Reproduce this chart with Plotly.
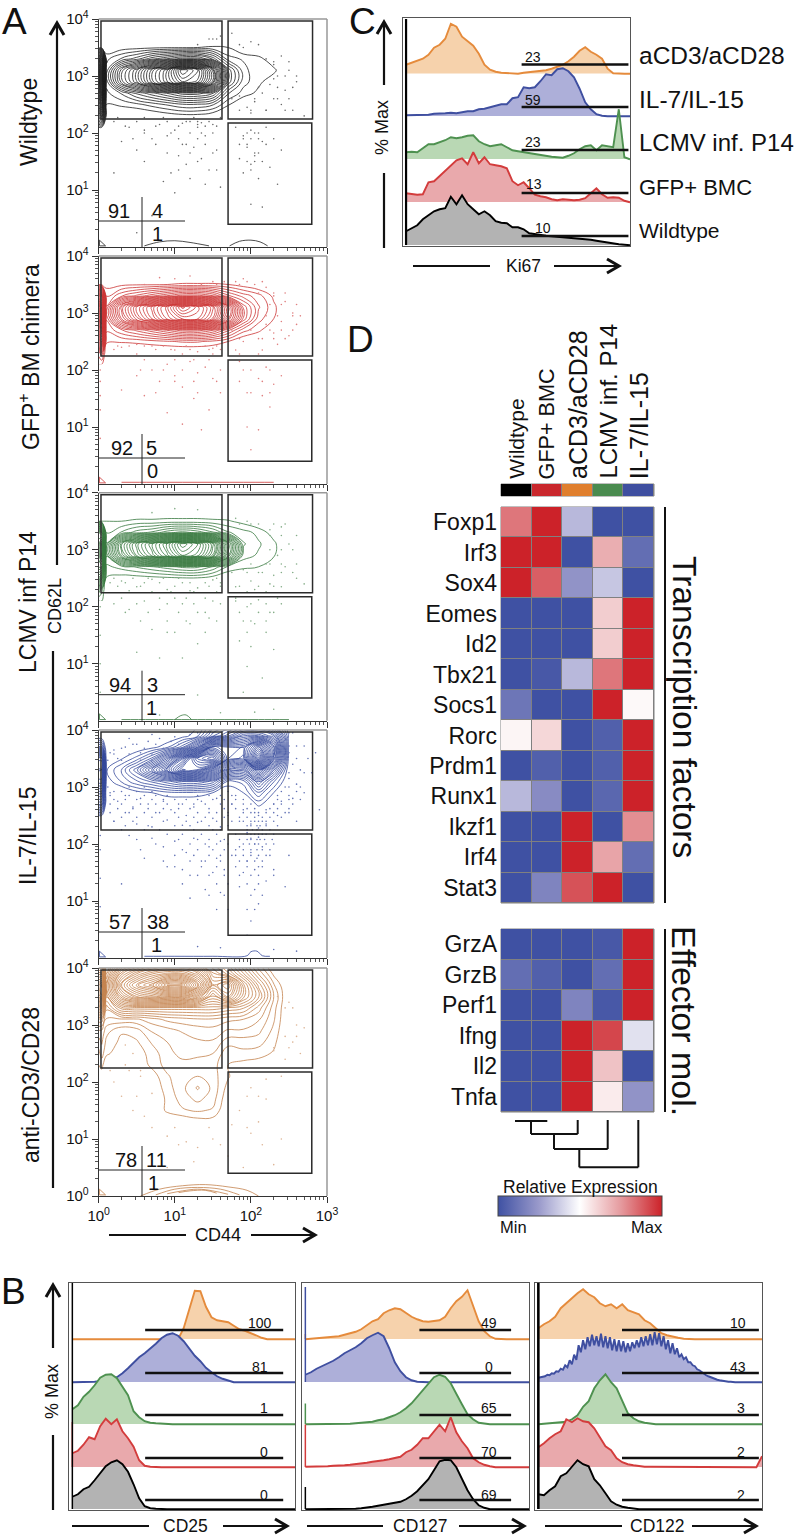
import numpy as np
import plotly.graph_objects as go

W, H = 796, 1537
FONT = "Liberation Sans"

ORANGE, BLUE, GREEN, RED, BLACK = "#E58B3C", "#3F4FA0", "#4E9150", "#D33C3C", "#000000"
FILLS = ["#F6D2AC", "#ADAFD9", "#B9D8B4", "#E9A9AC", "#B3B3B3"]
LINES = [ORANGE, BLUE, GREEN, RED, BLACK]

# ---- panel A: flow plots (all positions in log10 units)
grid_x = [0.0, 0.04, 0.1, 0.3, 0.5, 0.7, 0.9, 1.1, 1.3, 1.5, 1.7, 1.9, 2.1, 2.3, 2.5]

wt_y = [1.9, 2.1, 2.3, 2.5, 2.7, 2.9, 3.1, 3.3, 3.5, 3.7]
wt_z = [
    [0, 0, 0, 0, 0, 0, 0, 0, 0, 0, 0, 0, 0, 0, 0],
    [1, 1, 0, 0, 0, 0, 0, 0, 0, 0, 0, 0, 0, 0, 0],
    [6, 8, 0.8, 0, 0, 0.2, 0.5, 0.7, 0.7, 0.4, 0, 0, 0, 0, 0],
    [9, 12, 1, 1.2, 1.5, 2, 2.5, 3, 3, 2.5, 1.1, 0.2, 0, 0, 0],
    [11, 15, 1.5, 2.5, 4, 5, 6, 7, 7, 6, 2.5, 1.4, 0.8, 0, 0],
    [12, 18, 2, 7, 10, 14, 17, 20, 19, 14, 5, 2, 1.2, 0.5, 0],
    [12, 18, 2, 7, 10, 14, 17, 22, 20, 14, 5, 2, 1.1, 1.2, 0],
    [10, 14, 1.5, 2.5, 3.5, 5, 6, 7, 7, 5, 2, 1.6, 1.3, 0.4, 0],
    [0.5, 0.5, 0.4, 0.6, 0.7, 0.8, 0.9, 0.9, 1, 1.1, 1, 0.2, 0, 0, 0],
    [0, 0, 0, 0, 0, 0, 0, 0, 0, 0, 0, 0, 0, 0, 0],
]
gfp_y = [2.1, 2.3, 2.5, 2.7, 2.9, 3.1, 3.3, 3.5, 3.7]
gfp_z = [
    [1, 1, 0, 0, 0, 0, 0, 0, 0, 0, 0, 0, 0, 0, 0],
    [2, 3, 0, 0, 0, 0, 0, 0, 0, 0, 0, 0, 0, 0, 0],
    [9, 11, 1.2, 1.1, 1.2, 1.4, 1.6, 1.8, 1.8, 1.5, 1, 0.2, 0, 0, 0],
    [12, 14, 1.8, 3, 4, 5, 6, 7, 7, 6, 4, 2, 1.2, 0.2, 0],
    [13, 16, 2.5, 8, 12, 15, 18, 20, 20, 17, 11, 5, 2, 1, 0],
    [13, 16, 2.5, 9, 13, 16, 19, 23, 21, 18, 12, 5, 2.5, 1.2, 0],
    [10, 12, 1.6, 3, 4, 5, 6, 7, 7, 6, 4, 2.8, 2, 0.8, 0],
    [0.8, 0.8, 0.7, 0.8, 0.9, 0.9, 1, 1.1, 1.1, 1.1, 1, 0.6, 0.2, 0, 0],
    [0, 0, 0, 0, 0, 0, 0, 0, 0, 0, 0, 0, 0, 0, 0],
]
lcmv_y = [2.1, 2.3, 2.5, 2.7, 2.9, 3.1, 3.3, 3.5, 3.7]
lcmv_z = [
    [1, 1, 0, 0, 0, 0, 0, 0, 0, 0, 0, 0, 0, 0, 0],
    [3, 2, 0, 0, 0, 0, 0, 0, 0, 0, 0, 0, 0, 0, 0],
    [10, 8, 0.9, 0.6, 0.6, 0.7, 0.8, 0.9, 0.9, 0.6, 0.3, 0, 0, 0, 0],
    [13, 13, 1.5, 2, 2.5, 3, 3.5, 4, 4, 3, 1.5, 1.2, 1, 0.3, 0],
    [14, 16, 2.5, 9, 13, 16, 19, 22, 21, 17, 9, 2, 1.6, 1.1, 0],
    [14, 16, 2.5, 10, 14, 17, 20, 24, 22, 18, 10, 2.5, 1.8, 1.2, 0],
    [13, 12, 1.6, 2.5, 3.5, 4, 5, 5.5, 5, 4, 2.5, 2, 1.5, 0.6, 0],
    [1, 1, 1, 1, 1.2, 1.2, 1.3, 1.3, 1.3, 1.2, 1.1, 0.7, 0.2, 0, 0],
    [0, 0, 0, 0, 0, 0, 0, 0, 0, 0, 0, 0, 0, 0, 0],
]
il7_y = [2.3, 2.5, 2.7, 2.9, 3.1, 3.3, 3.5, 3.7, 3.9, 4.1]
il7_z = [
    [0, 0, 0, 0, 0, 0, 0, 0, 0, 0, 0, 0, 0, 0, 0],
    [1, 1, 0, 0, 0, 0, 0, 0, 0, 0, 0, 0, 0, 0, 0],
    [6, 6, 0, 0, 0, 0, 0, 0, 0, 0, 0, 0, 1.2, 0.4, 0],
    [9, 9, 0, 0, 0.7, 1.0, 1.5, 1.6, 1.5, 1, 0.3, 1, 3, 1, 0],
    [12, 12, 0.5, 1.8, 3, 4, 5, 6, 6, 5, 1.5, 2, 6, 2.5, 0],
    [13, 13, 0.9, 2.5, 5, 9, 13, 18, 17, 13, 8, 7, 12, 6, 0.2],
    [12, 12, 0.3, 0.9, 2, 4, 8, 14, 20, 22, 15, 14, 24, 12, 0.6],
    [4, 4, 0, 0, 0.3, 0.7, 1.5, 3.5, 8, 16, 15, 15, 20, 13, 0.9],
    [0, 0, 0, 0, 0, 0, 0.2, 0.6, 1.5, 5, 7, 10, 10, 8, 0.8],
    [0, 0, 0, 0, 0, 0, 0, 0.4, 0.9, 3, 4, 5, 5, 3, 0.4],
]
cd3_y = [1.1, 1.3, 1.5, 1.7, 1.9, 2.1, 2.3, 2.5, 2.7, 2.9, 3.1, 3.3, 3.5, 3.7, 3.9, 4.1]
cd3_z = [
    [0, 0, 0, 0, 0, 0, 0, 0, 0, 0, 0, 0, 0, 0, 0],
    [0, 0, 0, 0, 0, 0, 0, 0.3, 0.6, 0.6, 0.1, 0, 0, 0, 0],
    [0, 0, 0, 0, 0, 0, 1.2, 1.6, 1.8, 1.6, 0.2, 0, 0, 0, 0],
    [0, 0, 0, 0, 0, 0, 1.2, 2, 2.6, 2, 0.4, 0, 0, 0, 0],
    [0, 0, 0, 0, 0, 0.3, 1.4, 2.2, 3.2, 2.2, 0.7, 0, 0, 0, 0],
    [0.5, 0.5, 0, 0, 0, 0.6, 1.6, 2.2, 2.4, 2, 1.1, 0.2, 0, 0, 0],
    [1, 1.3, 0.2, 0, 0.4, 1.2, 2, 2.2, 2.2, 2, 1, 0.7, 0.6, 0.1, 0],
    [1.5, 2, 1.2, 0.4, 0.6, 1.3, 2.2, 2.6, 2.5, 2.4, 1.2, 1.5, 1.3, 0.9, 0],
    [2, 2.5, 1.5, 0.8, 0.9, 1.8, 2.4, 2.6, 3, 3, 2, 2, 2, 1.2, 0],
    [3, 3, 2, 1.1, 1.4, 2.5, 2.8, 3.2, 3.4, 3.5, 3, 3, 2.6, 1.5, 0],
    [5, 5, 3, 3, 3, 3.5, 4, 4.2, 4.4, 4.4, 4, 3.8, 3.2, 1.8, 0],
    [10, 10, 4, 7, 7, 7, 7, 7, 7, 7, 6.5, 6, 4.2, 2, 0],
    [16, 17, 6, 12, 15, 16, 17, 17, 14, 10, 13, 9, 6, 2.4, 0],
    [17, 18, 7, 15, 19, 21, 25, 25, 20, 13, 15, 9, 5, 1.8, 0],
    [14, 14, 5, 12, 15, 17, 18, 18, 16, 11, 9, 6, 3, 0.8, 0],
    [10, 10, 4, 8, 10, 12, 13, 13, 11, 9, 7, 4, 1.5, 0, 0],
]

wt_dots = [(1.9, 3.5), (2.0, 3.6), (2.2, 3.3), (2.3, 3.2), (2.4, 3.35), (2.5, 3.1), (2.6, 2.9), (2.45, 2.75), (2.35, 2.6),
           (2.25, 2.85), (2.15, 2.7), (2.05, 2.55), (1.95, 2.45), (1.85, 2.65), (2.0, 2.35), (2.2, 2.4), (2.4, 2.5), (2.55, 2.4),
           (2.3, 2.95), (1.75, 3.75), (1.2, 2.2), (1.3, 2.1), (1.4, 1.95), (1.5, 2.15), (1.0, 2.05), (1.1, 1.8), (0.9, 1.95),
           (0.8, 2.15), (0.7, 1.9), (0.6, 2.05), (0.5, 1.7), (0.4, 2.1), (0.3, 1.85), (0.2, 1.3), (1.35, 1.55), (1.25, 1.75),
           (1.15, 1.45), (1.05, 1.6), (1.45, 1.35), (1.55, 1.7), (0.95, 1.3), (0.85, 1.15), (1.6, 1.05), (1.8, 2.1), (1.9, 1.95),
           (2.0, 2.05), (2.1, 2.0), (1.95, 1.75), (2.05, 1.6), (2.15, 1.85), (1.85, 1.55), (2.2, 2.1), (2.3, 1.9), (2.4, 1.7),
           (2.25, 1.4), (2.0, 1.45), (1.9, 1.3), (2.1, 1.2), (2.0, 0.75), (2.15, 0.7), (1.0, 0.95), (1.2, 1.2), (1.4, 1.1),
           (0.7, 0.55), (0.5, 0.25), (1.3, 2.15), (1.1, 2.17), (1.35, 2.18), (1.5, 3.65), (1.6, 3.7), (2.35, 1.1), (2.7, 2.3)]
gfp_dots = [(1.8, 3.55), (1.9, 3.6), (2.05, 3.5), (2.2, 3.45), (2.3, 3.3), (2.45, 3.2), (2.55, 3.0), (2.4, 2.85), (2.3, 2.65),
            (2.2, 2.8), (2.1, 2.55), (2.0, 2.7), (1.9, 2.5), (1.8, 2.35), (2.15, 2.35), (2.35, 2.45), (2.5, 2.6), (2.6, 2.8),
            (1.2, 3.65), (1.0, 3.6), (0.8, 3.62), (0.5, 2.45), (0.7, 2.42), (1.0, 2.35), (1.3, 2.32), (1.5, 2.38), (0.3, 2.4),
            (1.2, 2.15), (1.3, 1.95), (1.4, 2.05), (1.5, 1.85), (1.0, 1.9), (1.1, 1.7), (0.9, 2.1), (0.8, 1.8), (0.7, 2.0),
            (0.6, 1.55), (0.5, 1.9), (0.3, 1.65), (1.25, 1.5), (1.45, 1.3), (1.6, 1.6), (0.9, 1.25), (1.1, 1.05), (1.35, 0.95),
            (1.85, 2.15), (2.0, 2.0), (2.1, 1.85), (2.2, 2.05), (2.3, 1.75), (1.95, 1.6), (2.15, 1.55), (2.25, 1.35), (2.4, 1.9),
            (1.95, 1.0), (2.1, 0.95), (2.0, 0.6), (0.02, 1.8), (0.02, 1.3), (0.02, 0.8), (0.02, 2.0), (0.02, 1.55)]
lcmv_dots = [(1.8, 3.55), (1.95, 3.5), (2.1, 3.45), (2.25, 3.35), (2.4, 3.4), (2.5, 3.1), (2.35, 2.9), (2.45, 2.7), (2.3, 2.55),
             (2.2, 2.75), (2.1, 2.6), (2.0, 2.45), (1.9, 2.65), (1.8, 2.35), (2.05, 2.3), (2.25, 2.4), (2.4, 2.35), (2.6, 2.5),
             (1.3, 3.7), (0.7, 3.65), (1.0, 3.72), (0.3, 2.45), (0.5, 2.35), (0.7, 2.48), (0.9, 2.3), (1.1, 2.42), (1.3, 2.33),
             (1.5, 2.47), (1.6, 2.36), (0.4, 2.28), (1.2, 2.28), (1.0, 2.15), (0.6, 2.1), (0.8, 1.95), (1.1, 2.05), (1.3, 1.9),
             (1.5, 2.1), (0.4, 1.95), (0.2, 2.05), (0.9, 1.75), (1.2, 1.7), (1.45, 1.8), (0.7, 1.6), (1.0, 1.55), (1.3, 1.35),
             (0.5, 1.2), (0.8, 1.1), (1.1, 1.1), (1.8, 2.1), (1.95, 2.0), (2.1, 2.12), (2.25, 1.9), (2.4, 2.05), (1.9, 1.75),
             (2.05, 1.7), (2.2, 1.55), (1.85, 1.4), (2.0, 1.3), (2.3, 1.25), (1.95, 0.95), (2.15, 0.75), (1.9, 0.5), (2.3, 0.2),
             (2.05, 0.15), (1.6, 0.14), (1.3, 0.45), (0.8, 0.1), (0.02, 2.0), (0.02, 1.5), (0.02, 1.0), (0.02, 0.5), (2.7, 2.4)]
il7_dots = [(0.2, 3.65), (0.35, 3.7), (0.5, 3.75), (0.65, 3.8), (0.8, 3.85), (1.0, 3.88), (1.2, 3.92), (0.4, 3.85), (0.7, 3.92),
            (0.95, 3.8), (0.25, 3.5), (0.15, 3.6), (0.55, 3.6), (2.45, 3.85), (2.5, 3.6), (2.55, 3.4), (2.65, 3.3), (2.6, 3.05),
            (2.5, 3.15), (2.7, 2.9), (2.55, 2.8), (2.45, 3.0), (2.4, 2.75), (2.5, 2.55), (2.35, 2.5), (2.6, 2.4), (2.3, 2.7),
            (2.2, 2.6), (2.1, 2.5), (2.15, 2.4), (2.05, 2.55), (2.0, 2.35), (2.1, 2.28), (2.2, 2.35), (1.9, 2.6), (1.8, 2.85),
            (1.75, 2.7), (1.7, 2.5), (1.85, 2.4), (0.15, 2.9), (0.25, 2.75), (0.35, 2.85), (0.45, 2.65), (0.55, 2.8), (0.65, 2.7),
            (0.75, 2.55), (0.85, 2.75), (0.95, 2.6), (1.05, 2.7), (1.15, 2.5), (1.25, 2.65), (1.35, 2.75), (1.45, 2.55), (1.55, 2.8),
            (0.2, 2.4), (0.35, 2.55), (0.5, 2.35), (0.7, 2.3), (0.9, 2.42), (1.1, 2.33), (1.3, 2.38), (1.5, 2.45), (1.6, 2.3),
            (0.4, 2.15), (0.7, 2.1), (0.85, 1.95), (1.0, 2.05), (1.15, 1.85), (1.25, 2.1), (1.35, 1.7), (1.45, 1.95), (1.55, 1.75),
            (1.6, 2.05), (1.65, 1.55), (1.5, 1.5), (1.3, 1.45), (1.1, 1.55), (0.9, 1.6), (0.6, 1.75), (0.3, 1.3), (1.4, 1.2),
            (1.6, 1.15), (1.55, 0.85), (1.2, 1.05), (1.95, 2.2), (2.0, 2.1), (2.05, 2.0), (2.1, 2.12), (2.15, 1.95), (2.0, 1.85),
            (2.08, 1.75), (1.95, 1.7), (1.85, 1.95), (1.8, 1.8), (2.2, 1.8), (2.15, 1.6), (2.05, 1.55), (1.9, 1.5), (1.85, 1.25),
            (2.05, 1.2), (2.2, 1.35), (2.3, 1.55), (2.5, 1.8), (2.45, 1.25), (2.1, 0.95), (2.0, 0.65), (1.95, 0.4), (1.3, 0.2),
            (1.6, 0.18), (2.3, 0.15), (2.6, 0.12), (0.02, 1.9), (0.02, 1.4), (0.02, 0.9), (0.02, 2.15), (2.85, 3.6), (2.9, 2.6)]
cd3_dots = [(2.5, 3.4), (2.6, 3.0), (2.55, 2.7), (2.65, 2.5), (2.45, 2.4), (2.7, 2.95), (2.35, 3.5), (2.3, 2.55), (0.35, 2.65),
            (0.45, 2.5), (0.35, 2.3), (0.2, 2.0), (0.55, 2.1), (0.7, 1.8), (0.6, 1.4), (0.9, 1.05), (1.15, 0.95), (1.3, 0.85),
            (1.5, 1.0), (1.7, 0.7), (1.25, 0.6), (0.45, 1.5), (2.0, 1.9), (2.2, 1.7), (1.85, 1.5), (2.1, 1.3), (2.0, 1.1),
            (2.4, 1.0), (2.3, 0.55), (1.9, 0.5), (2.4, 2.1), (0.3, 0.7), (0.9, 0.5), (1.75, 1.25), (2.2, 2.05)]

# more stippling, one y with the x of the dots along it
wt_rows = [(2.2, [0.2, 0.5, 0.9, 1.15, 1.3, 1.45]), (2.12, [0.35, 0.75, 1.05, 1.4, 1.55]), (2.0, [0.6, 0.95, 1.2, 1.35, 1.5, 1.95, 2.05]),
           (1.9, [0.45, 1.05, 1.3, 1.9, 2.0, 2.1]), (1.8, [0.75, 1.15, 1.4, 1.85, 1.95, 2.2]), (1.65, [0.9, 1.2, 1.5, 2.05, 2.1]),
           (1.5, [0.6, 1.3, 1.95, 2.05, 2.15]), (1.35, [1.05, 1.55, 2.0]), (2.4, [2.0, 2.2, 2.45, 1.85]), (2.6, [2.05, 2.3, 2.5, 1.75]),
           (2.8, [2.1, 2.35, 2.55]), (3.0, [2.35, 2.45, 2.6]), (3.25, [2.3, 2.5]), (3.55, [1.3, 1.85, 2.1]), (3.65, [1.45, 1.55]),
           (2.27, [0.25, 0.6, 0.85, 1.6, 1.25])]
gfp_rows = [(2.42, [0.25, 0.4, 0.6, 0.85, 1.15, 1.4, 1.55]), (2.36, [0.2, 0.75, 0.95, 1.2, 1.45, 1.6]), (2.28, [0.5, 1.1, 1.5, 1.85, 2.1]),
            (2.18, [0.6, 1.0, 1.25, 1.45]), (2.0, [0.55, 0.85, 1.1, 1.6, 1.9, 2.25]), (1.8, [1.0, 1.25, 1.55, 1.85, 2.15]),
            (1.6, [0.75, 1.3, 2.0, 2.25]), (2.55, [1.7, 1.85, 2.15, 2.3, 2.45]), (2.7, [2.25, 2.4, 2.55, 1.75]), (2.95, [2.2, 2.35, 2.55, 2.65]),
            (3.15, [2.25, 2.4, 2.6]), (3.35, [2.1, 2.3, 2.45]), (3.55, [1.5, 1.65, 1.95, 2.15]), (3.5, [0.6, 1.35, 1.55, 1.85])]
lcmv_rows = [(2.5, [0.2, 0.45, 0.65, 0.85, 1.05, 1.55]), (2.42, [0.15, 0.35, 0.6, 0.8, 1.2, 1.4, 1.6]), (2.36, [0.25, 0.55, 1.0, 1.45, 1.85, 2.1, 2.3]),
             (2.26, [0.7, 0.95, 1.25, 1.55, 1.95, 2.2]), (2.15, [0.3, 0.8, 1.15, 1.4, 1.8, 2.35]), (2.05, [0.5, 0.9, 1.25, 1.6, 2.0, 2.2]),
             (1.9, [0.35, 0.65, 1.05, 1.4, 1.85, 2.1, 2.3]), (1.75, [0.55, 1.15, 1.55, 2.0, 2.2]), (1.55, [0.9, 1.4, 1.95]),
             (2.6, [1.75, 1.95, 2.15, 2.4, 2.55]), (2.75, [2.0, 2.25, 2.4, 2.6]), (3.0, [2.25, 2.4, 2.55]), (3.25, [2.25, 2.4, 2.6]),
             (3.45, [1.85, 2.0, 2.3, 2.45])]
il7_rows = [(3.75, [0.45, 0.75, 1.05, 1.3]), (3.68, [0.3, 0.6, 0.85, 1.1]), (3.58, [0.2, 0.4, 0.7, 0.9]), (3.47, [0.12, 0.3, 0.55, 0.7]),
            (3.95, [1.3, 1.5, 2.5, 2.55]), (3.72, [2.5, 2.6, 2.7]), (3.5, [2.45, 2.6, 2.75]), (3.25, [2.4, 2.5, 2.7, 2.8]),
            (3.0, [0.12, 0.4, 0.6, 1.6, 2.5, 2.65]), (2.92, [0.2, 0.3, 0.5, 0.7, 1.45, 1.7, 2.4, 2.6]),
            (2.85, [0.15, 0.4, 0.6, 0.75, 0.9, 1.3, 1.45, 1.6, 1.75, 2.35, 2.5]),
            (2.78, [0.2, 0.35, 0.5, 0.7, 0.85, 1.0, 1.15, 1.3, 1.5, 1.65, 1.8, 1.9, 2.35, 2.5, 2.65]),
            (2.7, [0.15, 0.3, 0.55, 0.75, 0.9, 1.1, 1.25, 1.4, 1.6, 1.75, 1.9, 2.0, 2.3, 2.4, 2.55]),
            (2.62, [0.25, 0.45, 0.65, 0.85, 1.05, 1.2, 1.45, 1.65, 1.8, 1.95, 2.05, 2.25, 2.35, 2.5]),
            (2.55, [0.15, 0.4, 0.6, 0.8, 1.0, 1.3, 1.55, 1.7, 1.9, 2.0, 2.1, 2.2, 2.3, 2.45]),
            (2.47, [0.3, 0.5, 0.7, 1.05, 1.25, 1.4, 1.65, 1.85, 1.95, 2.05, 2.15, 2.25, 2.4]),
            (2.4, [0.2, 0.45, 0.85, 1.15, 1.35, 1.55, 1.75, 1.9, 2.0, 2.05, 2.1, 2.2, 2.3]),
            (2.32, [0.35, 0.65, 1.0, 1.2, 1.45, 1.7, 1.95, 2.0, 2.08, 2.12, 2.2, 2.35]),
            (2.25, [0.3, 0.6, 0.8, 1.25, 1.5, 1.6, 1.95, 2.02, 2.08, 2.15, 2.25]),
            (2.17, [0.9, 1.1, 1.35, 1.55, 1.8, 1.95, 2.0, 2.05, 2.1, 2.15, 2.2, 2.3]),
            (2.08, [0.5, 1.05, 1.3, 1.45, 1.65, 1.85, 1.95, 2.0, 2.08, 2.12, 2.18, 2.28]),
            (2.0, [0.75, 1.2, 1.4, 1.55, 1.7, 1.9, 1.98, 2.05, 2.1, 2.2, 2.3]),
            (1.9, [0.55, 1.1, 1.3, 1.5, 1.65, 1.8, 1.9, 2.0, 2.08, 2.15, 2.25]),
            (1.8, [1.0, 1.25, 1.45, 1.6, 1.75, 1.9, 2.0, 2.1, 2.25]), (1.7, [0.85, 1.2, 1.4, 1.6, 1.85, 1.95, 2.05, 2.15]),
            (1.6, [1.0, 1.35, 1.55, 1.8, 1.95, 2.1]), (1.45, [1.2, 1.45, 1.65, 1.85, 2.0, 2.1, 2.3]), (1.3, [1.1, 1.55, 1.7, 1.95, 2.1]),
            (1.1, [1.45, 1.65, 2.0, 2.15]), (0.85, [1.7, 1.95, 2.05])]
cd3_rows = [(2.2, [0.15, 0.55, 0.4]), (1.75, [0.3, 0.5, 1.95, 2.1]), (1.2, [0.7, 1.0, 1.45, 1.95]), (0.9, [1.05, 1.6, 2.15]),
            (3.3, [2.45, 2.55]), (2.8, [2.45, 2.6]), (2.6, [2.3, 2.5])]

wt_rim_x = [0.6, 0.8, 1.0, 1.2, 1.45, None, 1.72, 1.85, 2.0, 2.12, 2.22]
wt_rim_y = [0.02, 0.09, 0.11, 0.08, 0.02, None, 0.02, 0.1, 0.12, 0.09, 0.02]
gfp_rim_x = [0.3, 0.7, 1.1, 1.5, 1.9, 2.3]
gfp_rim_y = [0.03, 0.03, 0.03, 0.03, 0.03, 0.03]
lcmv_rim_x = [1.0, 1.08, 1.15, 1.22, None, 0.3, 0.7, 1.5, 2.1, 2.5]
lcmv_rim_y = [0.02, 0.09, 0.1, 0.02, None, 0.02, 0.02, 0.02, 0.02, 0.02]
il7_rim_x = [0.6, 1.0, 1.5, 1.95, 2.0, 2.08, 2.15, 2.25]
il7_rim_y = [0.03, 0.03, 0.03, 0.04, 0.11, 0.12, 0.04, 0.03]
cd3_rim_x = [0.55, 0.8, 1.1, 1.4, 1.7, 1.95, 2.1, None, 0.75, 1.0, 1.3, 1.6, 1.85, None, 0.9, 1.1, 1.3, 1.5, 1.7, None, 1.05, 1.2, 1.4, 1.55]
cd3_rim_y = [0.0, 0.12, 0.18, 0.2, 0.16, 0.1, 0.0, None, 0.02, 0.12, 0.15, 0.12, 0.02, None, 0.04, 0.09, 0.12, 0.09, 0.03, None, 0.06, 0.09, 0.1, 0.05]

corner_x = [0.01, 0.01, 0.09, 0.01]
corner_y = [0.02, 0.12, 0.02, 0.02]

# gates, log10 units
gate_left = (0.03, 1.62, 2.245, 3.965)
gate_right_up = (1.70, 2.81, 2.245, 3.965)
gate_right_low = (1.70, 2.80, 0.40, 2.175)

percent_top = ["91", "92", "94", "57", "78"]
percent_right = ["4", "5", "3", "38", "11"]
percent_low = ["1", "0", "1", "1", "1"]
percent_top_x = [119, 122, 120, 120, 126]
percent_right_x = [157, 151, 152, 158, 156]
percent_low_x = [157, 152, 151, 156, 153]

flow_tops = [19, 256, 492.7, 730, 968]
flow_colors = ["#1E1E1E", "#CC3535", "#37783F", "#33479A", "#C4834E"]
dot_colors = ["#6A6A6A", "#E08080", "#85AD88", "#6272B5", "#DDB495"]

# ---- panels B and C: histograms, % of max on a 2.5 % channel grid, rows top to bottom
cd25_orange = [0] * 20 + [22, 62, 97, 96, 65, 44, 38, 36, 34, 27, 20, 17, 13, 8, 3]
cd25_blue = [0, 0, 0, 0, 1, 2, 4, 7, 10, 18, 28, 40, 50, 58, 67, 77, 88, 95, 98, 93, 82, 68, 53, 42, 29, 20, 12, 7, 3]
cd25_green = [30, 38, 55, 65, 78, 93, 99, 100, 92, 76, 58, 26, 14, 6, 3, 2, 1]
cd25_red = [28, 33, 45, 60, 56, 82, 97, 86, 96, 72, 58, 41, 14, 3, 1]
cd25_black = [25, 30, 40, 45, 58, 72, 86, 94, 98, 90, 75, 50, 22, 6, 2, 1]

cd127_orange = [0, 1, 1, 2, 3, 4, 6, 9, 12, 15, 20, 28, 36, 40, 52, 58, 62, 60, 52, 45, 40, 36, 35, 36, 38, 45, 62, 76, 85, 98, 65, 36, 16, 6, 1]
cd127_blue = [15, 20, 27, 32, 38, 43, 50, 58, 64, 70, 78, 88, 94, 99, 92, 68, 40, 22, 10, 4, 1]
cd127_green = [0, 0, 0, 0, 0, 0, 1, 1, 1, 2, 3, 4, 5, 8, 10, 14, 18, 24, 32, 42, 55, 70, 82, 94, 99, 95, 82, 60, 40, 20, 10, 3, 1]
cd127_red = [1, 1, 2, 2, 2, 3, 3, 4, 5, 6, 7, 9, 11, 12, 14, 16, 18, 21, 30, 35, 45, 58, 58, 72, 85, 72, 100, 70, 52, 38, 18, 10, 5, 2]
cd127_black = [0, 0, 0, 0, 0, 0, 0, 0, 0, 1, 2, 3, 5, 7, 9, 11, 13, 15, 20, 27, 36, 48, 60, 78, 96, 99, 98, 84, 62, 38, 20, 8, 3]

cd122_orange = [22, 30, 36, 45, 62, 72, 84, 92, 100, 90, 84, 72, 66, 70, 62, 70, 58, 54, 50, 38, 32, 22, 12, 8, 5, 3, 1]
# this one is measured at 1 % steps, the peaks are too narrow for the coarse grid
cd122_blue = [9, 10, 11, 12, 15, 14, 18, 17, 22, 21, 27, 25, 34, 30, 44, 36, 55, 45, 74, 60, 84, 66, 90, 72, 95, 74, 92, 72, 97, 70,
              92, 68, 90, 64, 86, 62, 84, 62, 82, 60, 78, 62, 80, 68, 84, 70, 90, 72, 92, 74, 96, 74, 100, 76, 98, 72, 92, 66, 84, 58,
              78, 56, 68, 50, 56, 46, 50, 40, 40, 34, 32, 26, 24, 20, 17, 14, 12, 10, 8, 6, 5, 4, 3, 2, 1, 1, 1]
cd122_green = [0, 1, 1, 2, 3, 5, 10, 18, 35, 46, 72, 88, 100, 84, 72, 46, 22, 12, 6, 3, 1]
cd122_red = [40, 48, 58, 66, 72, 96, 90, 98, 92, 90, 78, 60, 42, 34, 18, 10, 6, 4, 2, 1, 1, 1, 0, 0, 1, 0, 0, 0, 0, 0, 0, 0, 0, 0, 0, 0, 0, 0, 0, 0, 22]
cd122_black = [30, 28, 38, 46, 66, 72, 85, 98, 90, 86, 60, 48, 32, 16, 9, 5, 3, 1]

ki67_orange = [18, 22, 26, 30, 38, 52, 58, 70, 100, 94, 74, 64, 56, 40, 18, 8, 4, 2, 1, 1, 0, 2, 3, 5, 6, 7, 10, 14, 18, 25, 34, 46, 53, 44, 38, 30, 10, 1]
ki67_blue = [2, 2, 3, 3, 3, 5, 5, 6, 7, 6, 8, 10, 10, 14, 15, 18, 20, 24, 24, 36, 38, 58, 56, 58, 70, 84, 82, 94, 96, 90, 78, 55, 28, 14, 4, 1]
ki67_green = [14, 15, 14, 22, 30, 30, 34, 38, 44, 42, 44, 47, 48, 36, 30, 26, 28, 30, 24, 18, 16, 14, 12, 10, 9, 7, 5, 4, 3, 7, 12, 20, 26, 28, 18, 28, 26, 24, 100, 4, 0]
ki67_red = [18, 16, 15, 16, 40, 42, 52, 62, 72, 84, 88, 76, 100, 78, 90, 76, 74, 72, 68, 42, 34, 40, 28, 15, 12, 10, 6, 4, 6, 5, 4, 5, 8, 18, 28, 16, 9, 10, 9, 3, 0]
ki67_black = [28, 34, 40, 52, 60, 68, 72, 74, 97, 82, 100, 82, 72, 62, 68, 60, 48, 45, 44, 36, 36, 32, 24, 22, 21, 19, 18, 17, 17, 16, 15, 14, 13, 11, 9, 7, 6, 3, 2, 1, 0]

cd25_values = ["100", "81", "1", "0", "0"]
cd127_values = ["49", "0", "65", "70", "69"]
cd122_values = ["10", "43", "3", "2", "2"]
ki67_values = ["23", "59", "23", "13", "10"]

cd25_spike = [0, 0, 0, 90, 452]
cd127_spike = [10, 190, 41, 85, 44]
cd122_spike = [0, 0, 0, 0, 452]
ki67_spike = [0, 0, 0, 0, 452]

ki67_groups = ["aCD3/aCD28", "IL-7/IL-15", "LCMV inf. P14", "GFP+ BMC", "Wildtype"]
ki67_group_sizes = [24.5, 24.5, 24, 22, 21]

# ---- panel D: heatmap
columns = ["Wildtype", "GFP+ BMC", "aCD3/aCD28", "LCMV inf. P14", "IL-7/IL-15"]
column_sizes = [21, 21.6, 25, 24, 25]
tf_genes = ["Foxp1", "Irf3", "Sox4", "Eomes", "Id2", "Tbx21", "Socs1", "Rorc", "Prdm1", "Runx1", "Ikzf1", "Irf4", "Stat3"]
tf_values = [
    [0.65, 1, -0.35, -1, -1],
    [1, 1, -1, 0.4, -0.8],
    [1, 0.75, -0.55, -0.28, -1],
    [-1, -1, -1, 0.25, 1],
    [-1, -1, -1, 0.25, 1],
    [-1, -0.95, -0.35, 0.65, 1],
    [-0.75, -1, -1, 1, 0.03],
    [0.05, 0.2, -1, -0.9, 1],
    [-1, -0.9, -1, -0.9, 1],
    [-0.35, -0.6, -1, -0.85, 1],
    [-1, -1, 1, -1, 0.55],
    [-1, -1, 1, 0.45, -0.8],
    [-1, -0.65, 0.8, 1, -1],
]
eff_genes = ["GrzA", "GrzB", "Perf1", "Ifng", "Il2", "Tnfa"]
eff_values = [
    [-1, -1, -1, -0.95, 1],
    [-0.8, -0.9, -1, -0.8, 1],
    [-1, -1, -0.65, -0.95, 1],
    [-1, -1, 1, 0.85, -0.15],
    [-1, -1, 1, 0.3, -1],
    [-1, -1, 1, 0.1, -0.55],
]
strip_colors = ["#000000", "#C9272C", "#E07F2E", "#4A8B4F", "#3F4FA0"]
heat_scale = [[0, "#3F51A3"], [0.25, "#9A9ACB"], [0.5, "#FFFFFF"], [0.75, "#E59A9E"], [1, "#CC2229"]]


def fx(x):
    return x / W


def fy(y):
    return 1 - y / H


fig = go.Figure()
shapes = []
annotations = []
axes = {}
axis_count = 0


def new_axes(x0, y0, x1, y1, xopts, yopts):
    global axis_count
    axis_count += 1
    n = axis_count
    axes[f"xaxis{n}"] = dict(domain=[fx(x0), fx(x1)], anchor=f"y{n}", **xopts)
    axes[f"yaxis{n}"] = dict(domain=[fy(y1), fy(y0)], anchor=f"x{n}", **yopts)
    return f"x{n}", f"y{n}"


def label(text, x, y, size, angle=0, xanchor="center", yanchor="middle", color="#111111"):
    annotations.append(dict(text=text, x=fx(x), y=fy(y), xref="paper", yref="paper", showarrow=False,
                            font=dict(family=FONT, size=size, color=color), textangle=angle,
                            xanchor=xanchor, yanchor=yanchor, borderpad=0))


def seg(x0, y0, x1, y1, width=2, color="#111111"):
    shapes.append(dict(type="line", xref="paper", yref="paper", x0=fx(x0), y0=fy(y0), x1=fx(x1), y1=fy(y1),
                       line=dict(color=color, width=width)))


def arrow_right(x0, x1, y):
    seg(x0, y, x1 - 1, y, 2.2)
    path = f"M {fx(x1 - 12)},{fy(y - 7)} L {fx(x1)},{fy(y)} L {fx(x1 - 12)},{fy(y + 7)}"
    shapes.append(dict(type="path", xref="paper", yref="paper", path=path, line=dict(color="#111111", width=3)))


def arrow_up(x, y0, y1):
    seg(x, y0, x, y1 + 1, 2.2)
    path = f"M {fx(x - 7)},{fy(y1 + 12)} L {fx(x)},{fy(y1)} L {fx(x + 7)},{fy(y1 + 12)}"
    shapes.append(dict(type="path", xref="paper", yref="paper", path=path, line=dict(color="#111111", width=3)))


# ---- A
minor_x = [float(np.log10(m * 10 ** k)) for k in range(3) for m in range(2, 10)]
minor_y = [float(np.log10(m * 10 ** k)) for k in range(4) for m in range(2, 10)]
flow_data = [
    (wt_y, wt_z, wt_dots, wt_rows, wt_rim_x, wt_rim_y),
    (gfp_y, gfp_z, gfp_dots, gfp_rows, gfp_rim_x, gfp_rim_y),
    (lcmv_y, lcmv_z, lcmv_dots, lcmv_rows, lcmv_rim_x, lcmv_rim_y),
    (il7_y, il7_z, il7_dots, il7_rows, il7_rim_x, il7_rim_y),
    (cd3_y, cd3_z, cd3_dots, cd3_rows, cd3_rim_x, cd3_rim_y),
]
tick_font = dict(family=FONT, size=15, color="#111111")
for i, (gy, gz, dots, rows, rim_x, rim_y) in enumerate(flow_data):
    top = flow_tops[i]
    last = i == 4
    xa = dict(range=[0, 3], showgrid=False, zeroline=False, showline=True, linecolor="#333333", linewidth=1,
              tickvals=[0, 1, 2, 3], ticktext=[f"10<sup>{k}</sup>" for k in range(4)], showticklabels=last,
              ticks="outside", ticklen=6, tickcolor="#333333", tickfont=tick_font,
              minor=dict(tickvals=minor_x, ticks="outside", ticklen=3, tickcolor="#555555"))
    y_ticks = [0, 1, 2, 3, 4] if last else [1, 2, 3, 4]
    ya = dict(range=[0, 4], showgrid=False, zeroline=False, showline=True, linecolor="#333333", linewidth=1,
              tickvals=y_ticks, ticktext=[f"10<sup>{k}</sup>" for k in y_ticks],
              ticks="outside", ticklen=6, tickcolor="#333333", tickfont=tick_font,
              minor=dict(tickvals=minor_y, ticks="outside", ticklen=3, tickcolor="#555555"))
    xr, yr = new_axes(98.7, top, 327, top + 228, xa, ya)
    dx, dy = zip(*dots)
    rx = [v for _, xs in rows for v in xs]
    ry = [y for y, xs in rows for _ in xs]
    fig.add_trace(go.Scatter(x=list(dx) + rx, y=list(dy) + ry, mode="markers", xaxis=xr, yaxis=yr, showlegend=False,
                             marker=dict(size=1.6, color=dot_colors[i])))
    fig.add_trace(go.Contour(x=grid_x, y=gy, z=gz, xaxis=xr, yaxis=yr, showscale=False,
                             contours=dict(coloring="none", start=1, end=25, size=0.7),
                             line=dict(color=flow_colors[i], width=0.8, smoothing=1.2)))
    fig.add_trace(go.Scatter(x=rim_x, y=rim_y, mode="lines", xaxis=xr, yaxis=yr, showlegend=False,
                             line=dict(color=flow_colors[i], width=0.8, shape="spline")))
    fig.add_trace(go.Scatter(x=corner_x, y=corner_y, mode="lines", xaxis=xr, yaxis=yr, showlegend=False,
                             line=dict(color=flow_colors[i], width=0.8)))
    for g in (gate_left, gate_right_up, gate_right_low):
        shapes.append(dict(type="rect", xref=xr, yref=yr, x0=g[0], x1=g[1], y0=g[2], y1=g[3],
                           line=dict(color="#2B2B2B", width=1.5)))
    # frame top and right
    seg(98.7, top, 327, top, 1.5, "#999999")
    seg(327, top, 327, top + 228, 1.5, "#999999")
    # quadrant cross with the percentages
    seg(142, top + 178, 142, top + 228, 1, "#222222")
    seg(98.7, top + 202, 185, top + 202, 1, "#222222")
    label(percent_top[i], percent_top_x[i], top + 192, 20)
    label(percent_right[i], percent_right_x[i], top + 192, 20)
    label(percent_low[i], percent_low_x[i], top + 215, 20)

label("Wildtype", 29, 122, 23, -90)
label("GFP<sup>+</sup> BM chimera", 29, 357, 23, -90)
label("LCMV inf P14", 28, 602, 23, -90)
label("IL-7/IL-15", 28, 836, 23, -90)
label("anti-CD3/CD28", 31, 1085, 23, -90)
label("CD62L", 55, 606, 18, -90)
label("CD44", 218, 1235, 18)
arrow_up(57, 565, 23)
seg(53, 651, 53, 1188, 2.2)
seg(109, 1235, 186, 1235, 2.2)
arrow_right(251, 315, 1235)

# ---- B and C
hist_panels = [
    ((69, 1283, 295, 1510), [cd25_orange, cd25_blue, cd25_green, cd25_red, cd25_black], cd25_spike, (32.7, 94.7),
     [2, 86, 172, 256, 342], 1.5),
    ((302, 1283, 529, 1510), [cd127_orange, cd127_blue, cd127_green, cd127_red, cd127_black], cd127_spike, (51, 92),
     [2, 86, 172, 256, 342], 1.5),
    ((535, 1283, 762, 1510), [cd122_orange, cd122_blue, cd122_green, cd122_red, cd122_black], cd122_spike, (37.4, 98.6),
     [2, 86, 172, 256, 342], 2.6),
    ((402.7, 18, 630, 246), [ki67_orange, ki67_blue, ki67_green, ki67_red, ki67_black], ki67_spike, (51.6, 99.3),
     [2, 88, 174, 260, 345], 2.2),
]
for rect, curves, spike, gate, bases, spike_width in hist_panels:
    x0, y0, x1, y1 = rect
    frame = dict(showgrid=False, zeroline=False, showticklabels=False, ticks="", showline=True, mirror=True,
                 linecolor="#555555", linewidth=1.2)
    xr, yr = new_axes(x0, y0, x1, y1, dict(range=[-1.5, 100], **frame), dict(range=[0, 2 * (y1 - y0)], **frame))
    # base values are stored bottom row first, curves top row first
    for row, vals in enumerate(curves):
        n = 101 if len(vals) > 41 else 41
        yv = np.array(list(vals) + [0] * (n - len(vals)), dtype=float)
        xv = np.linspace(0, 100, n)
        base = bases[4 - row]
        fig.add_trace(go.Scatter(x=list(xv) + [100, 0], y=list(yv + base) + [base, base], mode="lines", fill="toself",
                                 fillcolor=FILLS[row], line=dict(width=0), xaxis=xr, yaxis=yr, showlegend=False))
        fig.add_trace(go.Scatter(x=xv, y=yv + base - 0.5, mode="lines", line=dict(color=LINES[row], width=1.9),
                                 xaxis=xr, yaxis=yr, showlegend=False))
        if spike[row]:
            fig.add_trace(go.Scatter(x=[0, 0], y=[base, base + spike[row]], mode="lines",
                                     line=dict(color=LINES[row], width=spike_width), xaxis=xr, yaxis=yr, showlegend=False))
    for row in range(5):
        gy = bases[4 - row] + 18
        fig.add_trace(go.Scatter(x=list(gate), y=[gy, gy], mode="lines", line=dict(color="#111111", width=2.4),
                                 xaxis=xr, yaxis=yr, showlegend=False))

row_y = [1323, 1367, 1408, 1452, 1495]
for i in range(5):
    label(cd25_values[i], 260 if i < 2 else 264, row_y[i], 14)
    label(cd127_values[i], 489, row_y[i], 14)
    label(cd122_values[i], 738 if i < 2 else 741, row_y[i], 14)

label("% Max", 52, 1392, 18, -90)
arrow_up(53, 1348, 1285)
seg(53, 1435, 53, 1510, 2.2)
label("CD25", 185, 1526, 17.5)
seg(72, 1526, 149, 1526, 2.2)
arrow_right(223, 287, 1526)
label("CD127", 420, 1526, 17.5)
seg(307, 1526, 383, 1526, 2.2)
arrow_right(459, 524, 1526)
label("CD122", 657, 1526, 17.5)
seg(545, 1526, 622, 1526, 2.2)
arrow_right(692, 756, 1526)

for txt, x, y in zip(ki67_values, [533, 533, 533, 534, 543], [57, 100, 142, 184, 228]):
    label(txt, x, y, 14)
for txt, y, size in zip(ki67_groups, [55, 99, 142, 187, 231], ki67_group_sizes):
    label(txt, 638, y, size, xanchor="left")
label("% Max", 382, 128, 18, -90)
arrow_up(384, 85, 22)
seg(384, 173, 384, 248, 2.2)
label("Ki67", 523, 266, 17.5)
seg(413, 266, 490, 266, 2.2)
arrow_right(554, 619, 266)

# ---- D
strip_x, strip_y = new_axes(501, 484, 654, 496,
                            dict(range=[-0.5, 4.5], visible=False),
                            dict(range=[-0.5, 0.5], visible=False))
strip_scale = [[k / 4, c] for k, c in enumerate(strip_colors)]
fig.add_trace(go.Heatmap(z=[list(range(5))], x=list(range(5)), y=[0], colorscale=strip_scale, zmin=0, zmax=4, showscale=False,
                         xgap=1, xaxis=strip_x, yaxis=strip_y))
shapes.append(dict(type="rect", xref="paper", yref="paper", x0=fx(501), x1=fx(654), y0=fy(496), y1=fy(484), layer="below",
                   fillcolor="#808080", line=dict(color="#808080", width=1)))
for k, (name, size) in enumerate(zip(columns, column_sizes)):
    label(name, 516.3 + 30.6 * k, 480, size, -90, yanchor="bottom")

heat_blocks = [(507, 903, tf_genes, tf_values), (929, 1112, eff_genes, eff_values)]
for k, (y0, y1, genes, values) in enumerate(heat_blocks):
    xr, yr = new_axes(501, y0, 654, y1,
                      dict(range=[-0.5, 4.5], showticklabels=False, ticks="", showgrid=False, zeroline=False),
                      dict(range=[len(genes) - 0.5, -0.5], tickvals=list(range(len(genes))), ticktext=genes, ticks="",
                           showgrid=False, zeroline=False, ticklabelstandoff=3,
                           tickfont=dict(family=FONT, size=23, color="#111111")))
    shapes.append(dict(type="rect", xref="paper", yref="paper", x0=fx(501), x1=fx(654), y0=fy(y1), y1=fy(y0), layer="below",
                       fillcolor="#808080", line=dict(color="#808080", width=1)))
    cbar = dict(orientation="h", x=fx(498.3), xanchor="left", y=fy(1216.5), yanchor="bottom", len=164.4, lenmode="pixels",
                thickness=19.5, thicknessmode="pixels", xpad=0, ypad=0, showticklabels=False, ticks="",
                outlinecolor="#444444", outlinewidth=1)
    fig.add_trace(go.Heatmap(z=values, colorscale=heat_scale, zmin=-1, zmax=1, xgap=1, ygap=1, xaxis=xr, yaxis=yr,
                             showscale=k == 0, colorbar=cbar if k == 0 else None))

seg(665, 507, 665, 903, 2)
seg(665, 929, 665, 1112, 2)
label("Transcription factors", 684, 707, 33.5, 90)
label("Effector mol.", 684, 1021, 34, 90)
label("Relative Expression", 580, 1187, 17.5)
label("Min", 499, 1227, 16.5, xanchor="left")
label("Max", 664, 1227, 16.5, xanchor="right")

# dendrogram, tree drawn above the colour bar
tree = [
    (515, 1121, 547.3, 1121), (531, 1121, 531, 1134), (531, 1134, 577.7, 1134), (577.7, 1120, 577.7, 1134),
    (554, 1134, 554, 1149), (554, 1149, 607.7, 1149), (607.7, 1120, 607.7, 1149), (579.3, 1149, 579.3, 1167.3),
    (579.3, 1167.3, 638.3, 1167.3), (638.3, 1120, 638.3, 1167.3),
]
for a, b, c, d in tree:
    seg(a, b, c, d, 2)

label("A", 14, 22, 37)
label("B", 13, 1291, 37)
label("C", 362, 22, 37)
label("D", 360, 340, 37)

fig.update_layout(width=W, height=H, margin=dict(l=0, r=0, t=0, b=0, autoexpand=False), paper_bgcolor="white",
                  plot_bgcolor="rgba(0,0,0,0)", showlegend=False, shapes=shapes, annotations=annotations,
                  font=dict(family=FONT), **axes)
fig.write_html("out.html", post_script="document.body.style.margin='0'", config=dict(displayModeBar=False))
